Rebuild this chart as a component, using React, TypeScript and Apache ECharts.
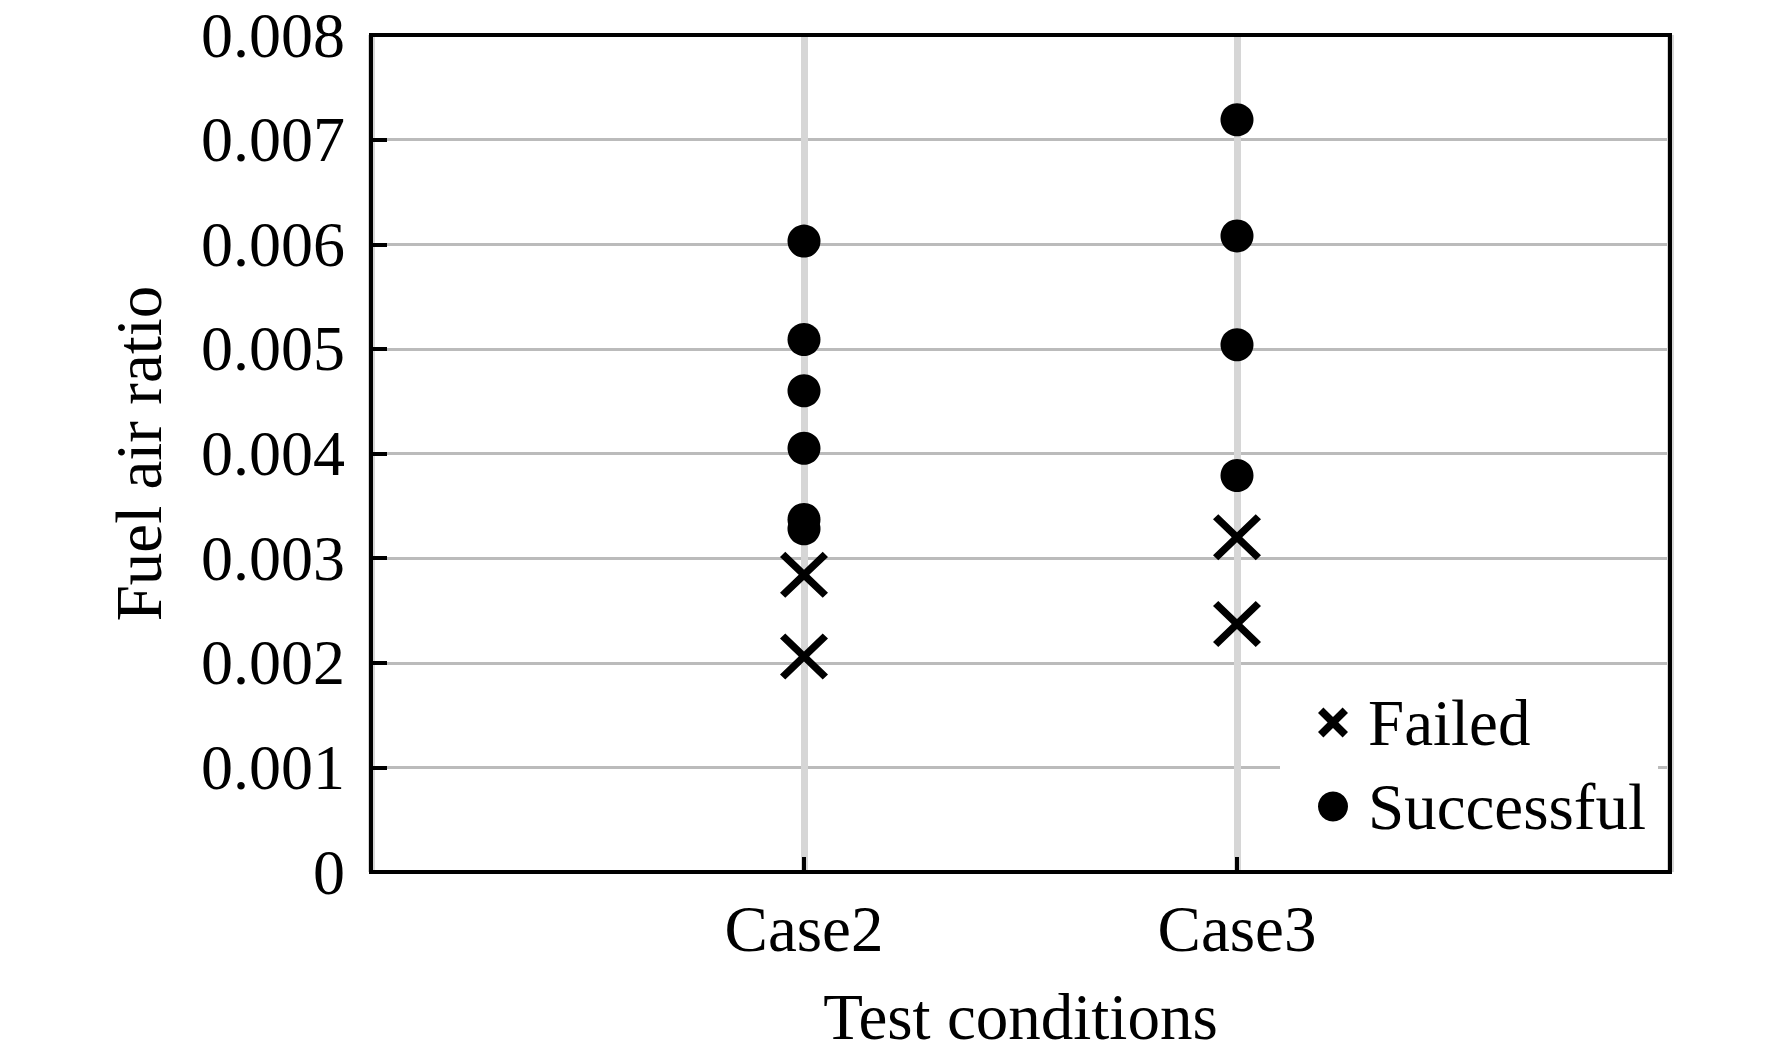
import React, { useEffect, useRef } from "react";
import * as echarts from "echarts";

const caseLabels = ["", "Case2", "Case3", ""];
const yTicks = [0, 0.001, 0.002, 0.003, 0.004, 0.005, 0.006, 0.007, 0.008];

const failedCase2 = [0.00284, 0.00206];
const failedCase3 = [0.0032, 0.00237];
const successCase2 = [0.00603, 0.00509, 0.0046, 0.00405, 0.00337, 0.00328];
const successCase3 = [0.00719, 0.00608, 0.00504, 0.00379];

const CROSS =
  "path://M0,11 L11,0 L50,39 L89,0 L100,11 L61,50 L100,89 L89,100 L50,61 L11,100 L0,89 L39,50 Z";
const CROSS_BOLD =
  "path://M0,18 L18,0 L50,32 L82,0 L100,18 L68,50 L100,82 L82,100 L50,68 L18,100 L0,82 L32,50 Z";

const FONT = "'Liberation Serif', 'Times New Roman', serif";

function pts(idx: number, vals: number[]) {
  return vals.map((v) => [idx, v]);
}

export default function App() {
  const ref = useRef<HTMLDivElement>(null);
  useEffect(() => {
    if (!ref.current) return;
    const chart = echarts.init(ref.current, undefined, { renderer: "svg" });
    const i2 = caseLabels.indexOf("Case2");
    const i3 = caseLabels.indexOf("Case3");
    chart.setOption({
      animation: false,
      backgroundColor: "#ffffff",
      grid: {
        left: 371,
        top: 31,
        right: 102,
        bottom: 184,
        show: true,
        borderColor: "#000",
        borderWidth: 4,
        backgroundColor: "transparent",
        z: 3,
      },
      xAxis: {
        type: "value",
        min: 0,
        max: caseLabels.length - 1,
        interval: 1,
        name: "Test conditions",
        nameLocation: "middle",
        nameGap: 112,
        nameTextStyle: { fontFamily: FONT, fontSize: 65, color: "#000" },
        axisLine: { show: true, lineStyle: { color: "#000", width: 4 } },
        axisTick: { show: true, inside: true, length: 15, lineStyle: { color: "#000", width: 4 } },
        axisLabel: {
          fontFamily: FONT,
          fontSize: 65,
          color: "#000",
          margin: 24,
          formatter: (v: number) => caseLabels[Math.round(v)] || "",
        },
        splitLine: { show: true, lineStyle: { color: "#d6d6d6", width: 7 } },
      },
      yAxis: {
        type: "value",
        min: yTicks[0],
        max: yTicks[yTicks.length - 1],
        interval: 0.001,
        name: "Fuel air ratio",
        nameLocation: "middle",
        nameGap: 200,
        nameTextStyle: { fontFamily: FONT, fontSize: 65, color: "#000" },
        axisLine: { show: true, lineStyle: { color: "#000", width: 4 } },
        axisTick: { show: true, inside: true, length: 16, lineStyle: { color: "#000", width: 4 } },
        axisLabel: {
          fontFamily: FONT,
          fontSize: 64,
          lineHeight: 56,
          padding: [14, 0, 0, 0],
          color: "#000",
          margin: 26,
          formatter: (v: number) => (Math.abs(v) < 1e-12 ? "0" : v.toFixed(3)),
        },
        splitLine: { show: true, lineStyle: { color: "#bbbbbb", width: 3 } },
      },
      legend: {
        orient: "vertical",
        left: 1280,
        top: 684,
        padding: [6, 12, 24, 38],
        backgroundColor: "#ffffff",
        itemWidth: 30,
        itemHeight: 30,
        itemGap: 19,
        textStyle: { fontFamily: FONT, fontSize: 65, color: "#000", padding: [0, 0, 0, 15] },
        data: [
          { name: "Failed", icon: CROSS_BOLD },
          { name: "Successful", icon: "circle" },
        ],
        z: 10,
      },
      series: [
        {
          name: "Failed",
          type: "scatter",
          symbol: CROSS,
          symbolSize: [48, 46],
          itemStyle: { color: "#000", opacity: 1 },
          data: [...pts(i2, failedCase2), ...pts(i3, failedCase3)],
          z: 5,
        },
        {
          name: "Successful",
          type: "scatter",
          symbol: "circle",
          symbolSize: 33,
          itemStyle: { color: "#000", opacity: 1 },
          data: [...pts(i2, successCase2), ...pts(i3, successCase3)],
          z: 5,
        },
      ],
    });
    return () => chart.dispose();
  }, []);
  return (
    <div
      ref={ref}
      style={{ position: "absolute", left: 0, top: 0, width: 1772, height: 1056, background: "#fff" }}
    />
  );
}
